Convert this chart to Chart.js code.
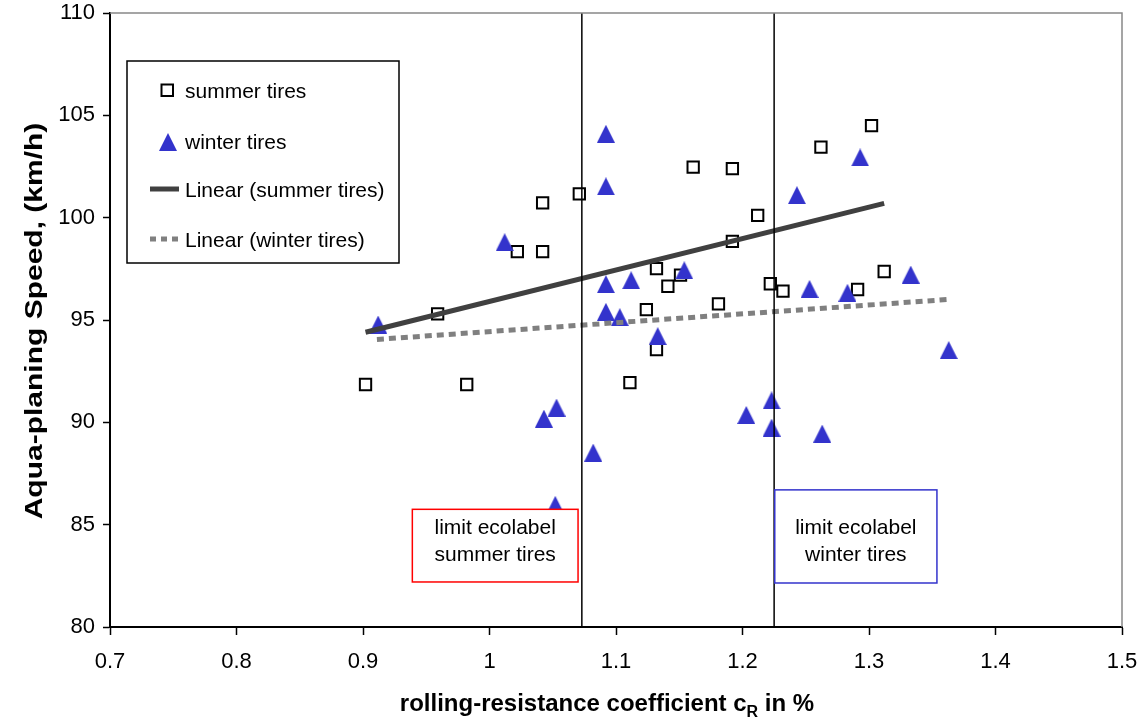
<!DOCTYPE html>
<html>
<head>
<meta charset="utf-8">
<script src="https://cdn.jsdelivr.net/npm/chart.js@4.4.1/dist/chart.umd.min.js"></script>
<style>
  html, body { margin: 0; padding: 0; background: #fff; }
  #wrap { width: 1147px; height: 721px; position: relative; }
</style>
</head>
<body>
<div id="wrap"><canvas id="chart"></canvas></div>
<script>
// values
const summerX = [1.042, 1.071, 1.022, 1.042, 1.161, 1.192, 1.192, 1.132, 1.151, 1.141, 1.124, 1.181,
                 0.959, 1.132, 0.902, 0.982, 1.111, 1.302, 1.262, 1.212, 1.222, 1.232, 1.291, 1.312];
const summerY = [100.72, 101.16, 98.34, 98.34, 102.47, 102.40, 98.84, 97.51, 97.19, 96.65, 95.51, 95.79,
                 95.30, 93.56, 91.85, 91.85, 91.94, 104.5, 103.45, 100.11, 96.77, 96.41, 96.49, 97.37];

const winterX = [1.092, 1.092, 1.012, 1.092, 1.112, 1.154, 1.092, 1.103, 1.133, 0.912, 1.293, 1.243,
                 1.253, 1.283, 1.333, 1.363, 1.053, 1.043, 1.082, 1.203, 1.223, 1.223, 1.263, 1.052];
const winterY = [104.1, 101.53, 98.8, 96.75, 96.94, 97.43, 95.4, 95.14, 94.21, 94.78, 102.94, 101.1,
                 96.52, 96.33, 97.22, 93.53, 90.72, 90.18, 88.52, 90.36, 91.07, 89.74, 89.45, 85.97];

// trend line end points as drawn in the picture
const summerTrendX = [0.902, 1.312];
const summerTrendY = [94.4, 100.7];
const winterTrendX = [0.911, 1.362];
const winterTrendY = [94.05, 96.0];

// ecolabel limits
const limitSummer = 1.073;
const limitWinter = 1.225;

const xTicks = [0.7, 0.8, 0.9, 1, 1.1, 1.2, 1.3, 1.4, 1.5];
const yTicks = [80, 85, 90, 95, 100, 105, 110];

const FONT = "'Liberation Sans', Arial, sans-serif";
const BLUE = '#3333cc';

function toPoints(xs, ys) {
  return xs.map((x, i) => ({ x: x, y: ys[i] }));
}

function makeTriangle(w, h, color) {
  const c = document.createElement('canvas');
  c.width = w; c.height = h;
  const g = c.getContext('2d');
  g.fillStyle = color;
  g.beginPath();
  g.moveTo(w / 2, 0);
  g.lineTo(w, h);
  g.lineTo(0, h);
  g.closePath();
  g.fill();
  return c;
}
const triangle = makeTriangle(18, 18, BLUE);

const notes = [
  { lines: ['limit ecolabel', 'summer tires'], x0: 0.939, x1: 1.070, y0: 82.2, y1: 85.75, color: '#ff0000' },
  { lines: ['limit ecolabel', 'winter tires'], x0: 1.2255, x1: 1.3537, y0: 82.15, y1: 86.7, color: BLUE }
];

const overlayPlugin = {
  id: 'overlay',
  afterDatasetsDraw(chart) {
    const ctx = chart.ctx;
    const xs = chart.scales.x, ys = chart.scales.y;
    const area = chart.chartArea;
    ctx.save();

    // plot frame, top and right
    ctx.strokeStyle = '#888';
    ctx.lineWidth = 1.5;
    ctx.beginPath();
    ctx.moveTo(area.left, area.top);
    ctx.lineTo(area.right, area.top);
    ctx.lineTo(area.right, area.bottom);
    ctx.stroke();

    // ecolabel notes
    ctx.font = '21px ' + FONT;
    ctx.textAlign = 'center';
    ctx.textBaseline = 'middle';
    notes.forEach(n => {
      const l = xs.getPixelForValue(n.x0), r = xs.getPixelForValue(n.x1);
      const t = ys.getPixelForValue(n.y1), b = ys.getPixelForValue(n.y0);
      ctx.fillStyle = '#fff';
      ctx.fillRect(l, t, r - l, b - t);
      ctx.strokeStyle = n.color;
      ctx.lineWidth = 1.5;
      ctx.strokeRect(l, t, r - l, b - t);
      ctx.fillStyle = '#000';
      ctx.fillText(n.lines[0], (l + r) / 2, ys.getPixelForValue(84.85));
      ctx.fillText(n.lines[1], (l + r) / 2, ys.getPixelForValue(83.5));
    });

    // legend box
    ctx.fillStyle = '#fff';
    ctx.fillRect(127, 61, 272, 202);
    ctx.strokeStyle = '#000';
    ctx.lineWidth = 1.5;
    ctx.strokeRect(127, 61, 272, 202);

    ctx.lineWidth = 2;
    ctx.strokeRect(161.5, 84.5, 11.5, 11.5);
    ctx.drawImage(triangle, 159, 133, 18, 18);

    ctx.lineWidth = 5;
    ctx.strokeStyle = '#404040';
    ctx.beginPath(); ctx.moveTo(150, 189); ctx.lineTo(179, 189); ctx.stroke();
    ctx.strokeStyle = '#808080';
    ctx.setLineDash([6, 5]);
    ctx.beginPath(); ctx.moveTo(150, 239); ctx.lineTo(179, 239); ctx.stroke();
    ctx.setLineDash([]);

    ctx.fillStyle = '#000';
    ctx.textAlign = 'left';
    ctx.font = '21px ' + FONT;
    ctx.fillText('summer tires', 185, 92);
    ctx.fillText('winter tires', 185, 143);
    ctx.fillText('Linear (summer tires)', 185, 191);
    ctx.fillText('Linear (winter tires)', 185, 241);
    ctx.restore();
  },
  afterDraw(chart) {
    const ctx = chart.ctx;
    const area = chart.chartArea;
    ctx.save();
    ctx.fillStyle = '#000';
    ctx.textBaseline = 'alphabetic';

    // y title, stretched along its length like the reference
    ctx.font = 'bold 24px ' + FONT;
    ctx.translate(42, 321);
    ctx.rotate(-Math.PI / 2);
    ctx.scale(1.25, 1);
    ctx.textAlign = 'center';
    ctx.fillText('Aqua-planing Speed, (km/h)', 0, 0);
    ctx.setTransform(1, 0, 0, 1, 0, 0);

    // x title with subscript R
    const a = 'rolling-resistance coefficient c';
    const sub = 'R';
    const b = ' in %';
    ctx.textAlign = 'left';
    ctx.font = 'bold 24px ' + FONT;
    const wa = ctx.measureText(a).width, wb = ctx.measureText(b).width;
    ctx.font = 'bold 16px ' + FONT;
    const ws = ctx.measureText(sub).width;
    const x = 607 - (wa + ws + wb) / 2;
    const y = 711;
    ctx.font = 'bold 24px ' + FONT;
    ctx.fillText(a, x, y);
    ctx.font = 'bold 16px ' + FONT;
    ctx.fillText(sub, x + wa, y + 6);
    ctx.font = 'bold 24px ' + FONT;
    ctx.fillText(b, x + wa + ws, y);
    ctx.restore();
  }
};

new Chart(document.getElementById('chart'), {
  type: 'scatter',
  data: {
    datasets: [
      {
        label: 'limit summer',
        type: 'line',
        data: [{ x: limitSummer, y: 80 }, { x: limitSummer, y: 110 }],
        borderColor: '#000', borderWidth: 1.5, pointRadius: 0, showLine: true
      },
      {
        label: 'limit winter',
        type: 'line',
        data: [{ x: limitWinter, y: 80 }, { x: limitWinter, y: 110 }],
        borderColor: '#000', borderWidth: 1.5, pointRadius: 0, showLine: true
      },
      {
        label: 'Linear (summer tires)',
        type: 'line',
        data: toPoints(summerTrendX, summerTrendY),
        borderColor: '#404040', borderWidth: 5, pointRadius: 0, showLine: true
      },
      {
        label: 'Linear (winter tires)',
        type: 'line',
        data: toPoints(winterTrendX, winterTrendY),
        borderColor: '#808080', borderWidth: 5, borderDash: [7, 5], pointRadius: 0, showLine: true
      },
      {
        label: 'winter tires',
        data: toPoints(winterX, winterY),
        pointStyle: triangle,
        pointRadius: 9
      },
      {
        label: 'summer tires',
        data: toPoints(summerX, summerY),
        pointStyle: 'rect',
        pointRadius: 8,
        pointBorderWidth: 2,
        pointBackgroundColor: '#fff',
        pointBorderColor: '#000'
      }
    ]
  },
  options: {
    responsive: true,
    maintainAspectRatio: false,
    animation: false,
    layout: { padding: { top: 13, right: 25, left: 0, bottom: 0 } },
    plugins: {
      legend: { display: false },
      tooltip: { enabled: false }
    },
    scales: {
      x: {
        type: 'linear',
        min: 0.7,
        max: 1.5,
        afterBuildTicks: s => { s.ticks = xTicks.map(v => ({ value: v })); },
        afterFit: s => { s.height = 94; s.paddingLeft = 0; s.paddingRight = 0; },
        grid: { drawOnChartArea: false, drawTicks: true, tickLength: 8, tickColor: '#000', tickWidth: 1.5 },
        border: { color: '#000', width: 2 },
        ticks: {
          color: '#000', maxRotation: 0, padding: 14,
          font: { family: FONT, size: 22 },
          callback: v => String(v)
        }
      },
      y: {
        type: 'linear',
        min: 80,
        max: 110,
        afterBuildTicks: s => { s.ticks = yTicks.map(v => ({ value: v })); },
        afterFit: s => { s.width = 110; s.paddingTop = 0; s.paddingBottom = 0; },
        grid: { drawOnChartArea: false, drawTicks: true, tickLength: 7, tickColor: '#000', tickWidth: 1.5 },
        border: { color: '#000', width: 2 },
        ticks: {
          color: '#000', padding: 8,
          font: { family: FONT, size: 22 },
          callback: v => String(v)
        }
      }
    }
  },
  plugins: [overlayPlugin]
});
</script>
</body>
</html>
